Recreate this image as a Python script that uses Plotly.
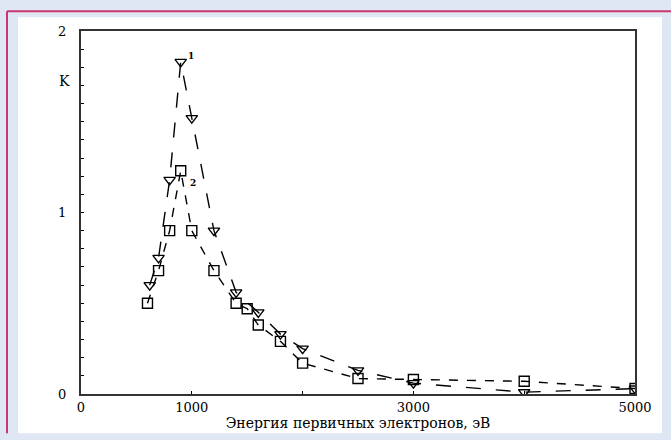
import plotly.graph_objects as go

# Data
energy_1 = [620, 700, 800, 900, 1000, 1200, 1400, 1600, 1800, 2000, 2500, 3000, 4000, 5000]
k_1 = [0.60, 0.75, 1.18, 1.83, 1.52, 0.90, 0.56, 0.45, 0.33, 0.25, 0.13, 0.06, 0.01, 0.03]

energy_2 = [600, 700, 800, 900, 1000, 1200, 1400, 1500, 1600, 1800, 2000, 2500, 3000, 4000, 5000]
k_2 = [0.50, 0.68, 0.90, 1.23, 0.90, 0.68, 0.50, 0.47, 0.38, 0.29, 0.17, 0.085, 0.08, 0.07, 0.03]

x_tick_vals = [0, 1000, 2000, 3000, 4000, 5000]
x_tick_text = ["0", "1000", "", "3000", "", "5000"]
y_tick_vals = [round(i * 0.1, 1) for i in range(21)]
y_tick_text = [("%d" % v) if abs(v - round(v)) < 1e-9 else "" for v in y_tick_vals]

FONT = "DejaVu Serif"

fig = go.Figure()
fig.add_trace(go.Scatter(
    x=energy_1, y=k_1, mode="lines+markers",
    line=dict(color="black", width=1.4, dash="longdash"),
    marker=dict(symbol="triangle-down-open", size=10, color="black", line=dict(width=1.4)),
    showlegend=False,
))
fig.add_trace(go.Scatter(
    x=energy_2, y=k_2, mode="lines+markers",
    line=dict(color="black", width=1.4, dash="dash"),
    marker=dict(symbol="square-open", size=10, color="black", line=dict(width=1.4)),
    showlegend=False,
))

W, H = 671, 440
L, R, T, B = 81, 36, 31, 40
pw, ph = W - L - R, H - T - B


def px(x):
    return (x - L) / pw


def py(y):
    return (H - B - y) / ph


shapes = [
    # white card
    dict(type="rect", xref="paper", yref="paper", x0=px(18), x1=px(662), y0=py(440), y1=py(17),
         fillcolor="white", line=dict(width=0), layer="below"),
    # crimson border lines
    dict(type="line", xref="paper", yref="paper", x0=px(7), x1=px(7), y0=py(440), y1=py(11),
         line=dict(color="#c8376d", width=2)),
    dict(type="line", xref="paper", yref="paper", x0=px(7), x1=px(671), y0=py(11), y1=py(11),
         line=dict(color="#c8376d", width=2)),
]

annotations = [
    dict(text="K", x=px(57), y=py(72), xref="paper", yref="paper", showarrow=False,
         font=dict(family=FONT, size=14, color="black")),
    dict(text="<b>1</b>", x=energy_1[3] + 90, y=k_1[3] + 0.03, xref="x", yref="y", showarrow=False,
         font=dict(family=FONT, size=9, color="black")),
    dict(text="<b>2</b>", x=1010, y=1.16, xref="x", yref="y", showarrow=False,
         font=dict(family=FONT, size=9, color="black")),
]

fig.update_layout(
    width=W, height=H,
    margin=dict(l=L, r=R, t=T, b=B, pad=0),
    paper_bgcolor="#dfe7f5",
    plot_bgcolor="white",
    font=dict(family=FONT, size=13, color="black"),
    shapes=shapes,
    annotations=annotations,
    xaxis=dict(
        range=[0, 5000], tickvals=x_tick_vals, ticktext=x_tick_text,
        ticks="inside", ticklen=3, tickcolor="black", tickwidth=1,
        showline=True, linecolor="#333333", linewidth=2, mirror=True,
        showgrid=False, zeroline=False,
        title=dict(text="Энергия первичных электронов, эВ", standoff=4,
                   font=dict(family=FONT, size=14)),
        tickfont=dict(family=FONT, size=13),
    ),
    yaxis=dict(
        range=[0, 2], tickvals=y_tick_vals, ticktext=y_tick_text,
        ticks="inside", ticklen=3, tickcolor="black", tickwidth=1,
        showline=True, linecolor="#333333", linewidth=2, mirror=True,
        showgrid=False, zeroline=False,
        ticklabelstandoff=10,
        tickfont=dict(family=FONT, size=13),
    ),
)

fig.write_html("out.html")
